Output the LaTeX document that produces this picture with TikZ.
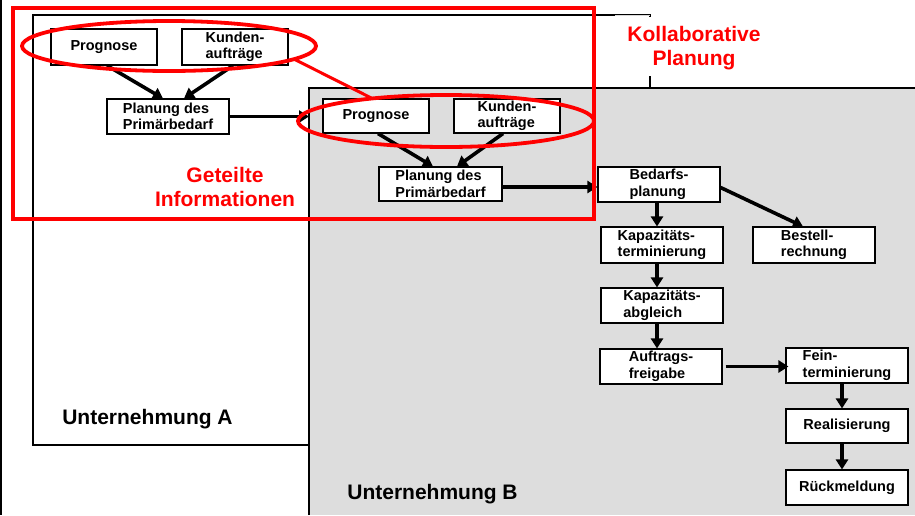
\documentclass[tikz,border=0pt]{standalone}
\usepackage{fontspec}
\setmainfont{Liberation Sans}
\usetikzlibrary{arrows.meta,calc,shapes.geometric}
\definecolor{bgray}{RGB}{221,221,221}
\definecolor{pred}{RGB}{255,0,0}
\begin{document}
\begin{tikzpicture}[x=1pt,y=-1pt,
  box/.style={draw=black, fill=white, line width=1.1pt, inner sep=0pt, align=left,
     font=\bfseries\fontsize{14.5}{16.5}\selectfont, minimum width=122pt, minimum height=35pt},
  sbox/.style={box, minimum width=106pt},
  arr/.style={line width=3.6pt, -{Triangle[length=10pt,width=12pt]}},
  rlbl/.style={text=pred, font=\bfseries\fontsize{21}{24.5}\selectfont, align=center, inner sep=0pt},
  blbl/.style={font=\bfseries\fontsize{21}{25}\selectfont, inner sep=0pt},
  redline/.style={draw=pred, line width=3.5pt},
  redell/.style={ellipse, draw=pred, line width=3.8pt, inner sep=0pt, outer sep=0pt}
]
\useasboundingbox (0,0) rectangle (915,515);
% frame line at left
\draw[line width=2pt] (1,0) -- (1,515);
% Unternehmung A
\draw[line width=1.1pt] (33,15) rectangle (650,445);
\fill[white] (614,16.5) rectangle (775,76);
\draw[black!15, line width=1pt] (615,15) -- (650,15);
\node[rlbl] (kollab) at (694,48) {Kollaborative\\Planung};
% Unternehmung B
\fill[bgray] (309,88) rectangle (915,515);
\draw[line width=1.1pt] (309,515) -- (309,88) -- (915,88);
\coordinate (bleft) at (309,88);

% nodes A
\node[sbox, minimum height=36pt] (progA) at (104,47) {Prognose};
\node[sbox, minimum height=36pt] (kundA) at (235,47) {Kunden-\\aufträge};
\node[box] (planA) at (168,116.5) {Planung des\\Primärbedarf};
% nodes B
\node[sbox, minimum height=34pt] (progB) at (376,116) {Prognose};
\node[sbox, minimum height=34pt] (kundB) at (507,116) {Kunden-\\aufträge};
\node[box, minimum width=123pt, minimum height=34pt] (planB) at (440.5,184) {Planung des\\Primärbedarf};
\node[box] (bedarf) at (659,184.5) {Bedarfs-\\planung};
\node[box, minimum height=36pt] (kapT) at (662,245) {Kapazitäts-\\terminierung};
\node[box, minimum height=36pt] (best) at (814,245) {Bestell-\\rechnung};
\node[box] (kapA) at (662,305.5) {Kapazitäts-\\abgleich};
\node[box] (auft) at (661,366.5) {Auftrags-\\freigabe};
\node[box] (fein) at (847,365.5) {Fein-\\terminierung};
\node[box, minimum height=34pt] (real) at (847,426) {Realisierung};
\node[box] (rueck) at (847,487.5) {Rückmeldung};

% arrows A
\draw[arr] ([xshift=3pt]progA.south) -- ([xshift=-5pt]planA.north);
\draw[arr] ([xshift=-2pt]kundA.south) -- ([xshift=16pt]planA.north);
\draw[arr] (planA.east) -- (planA.east -| bleft);
% arrows B
\draw[arr] ([xshift=2pt]progB.south) -- ([xshift=-7.5pt]planB.north);
\draw[arr] ([xshift=-4pt]kundB.south) -- ([xshift=16.5pt]planB.north);
\draw[arr] ([yshift=-3pt]planB.east) -- ([yshift=-3pt]planB.east -| bedarf.west);
\draw[arr] ([xshift=-5pt]kapT.north |- bedarf.south) -- ([xshift=-5pt]kapT.north);
\draw[arr] ([yshift=-3pt]bedarf.east) -- ([xshift=-11pt]best.north);
\draw[arr] ([xshift=-5pt]kapA.north |- kapT.south) -- ([xshift=-5pt]kapA.north);
\draw[arr] ([xshift=-5pt]kapA.north |- kapA.south) -- ([xshift=-5pt]kapA.north |- auft.north);
\draw[arr] ([xshift=3pt]auft.east) -- ([xshift=3pt]auft.east -| fein.west);
\draw[arr] ([xshift=-5pt]fein.south) -- ([xshift=-5pt]real.north);
\draw[arr] ([xshift=-5pt]real.south) -- ([xshift=-5pt]rueck.north);

% labels
\node[blbl] (ua) at (147.5,419.5) {Unternehmung A};
\node[blbl] (ub) at (432.5,494) {Unternehmung B};
\node[rlbl] (geteilt) at (225,187) {Geteilte\\Informationen};

% red highlights
\draw[redline, line width=4.5pt] (13,8) rectangle (594,219);
\node[redell, minimum width=294pt, minimum height=50pt] (e1) at (169,46) {};
\node[redell, minimum width=296pt, minimum height=52pt] (e2) at (446,121) {};
\draw[redline, line width=3pt] (e1.-6) -- (e2.163);
\end{tikzpicture}
\end{document}
